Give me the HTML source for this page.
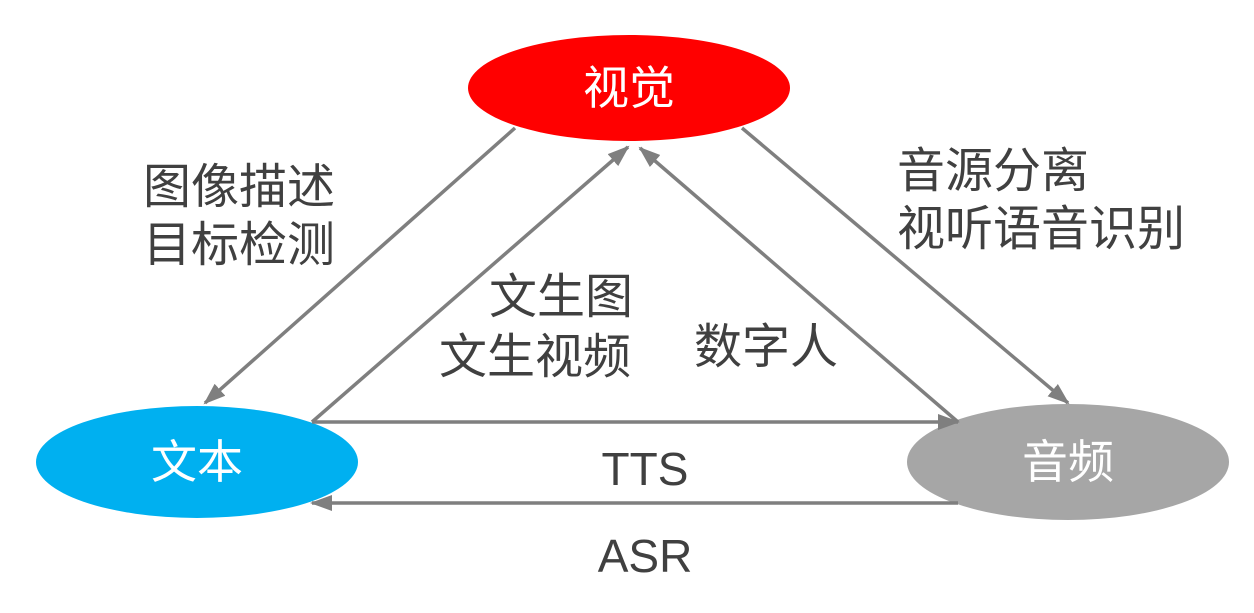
<!DOCTYPE html>
<html><head><meta charset="utf-8"><style>
html,body{margin:0;padding:0;background:#fff;width:1254px;height:613px;overflow:hidden}
text{font-family:"Liberation Sans","Noto Sans CJK SC",sans-serif}
</style></head><body>
<svg width="1254" height="613" viewBox="0 0 1254 613">
<defs>
<marker id="b" markerWidth="22" markerHeight="16" refX="20" refY="8" orient="auto" markerUnits="userSpaceOnUse"><path d="M0,0 L22,8 L0,16z" fill="#7f7f7f"/></marker></defs>
<ellipse cx="629" cy="88" rx="161" ry="53" fill="#ff0000"/>
<ellipse cx="197" cy="462" rx="161" ry="56" fill="#00b0f0"/>
<ellipse cx="1068" cy="462" rx="161" ry="58" fill="#a6a6a6"/>
<g stroke="#7f7f7f" stroke-width="3.5" fill="none" marker-end="url(#b)">
<line x1="515" y1="128" x2="205" y2="403"/>
<line x1="312" y1="422" x2="628" y2="147"/>
<line x1="958" y1="422" x2="640" y2="148"/>
<line x1="742" y1="128" x2="1068" y2="403"/>
<line x1="312" y1="422" x2="958" y2="422"/>
<line x1="958" y1="503" x2="312" y2="503"/>
</g>
<g fill="#fff" font-size="46" text-anchor="middle">
<text x="629" y="104">视觉</text>
<text x="197" y="478">文本</text>
<text x="1068" y="478">音频</text>
</g>
<g fill="#404040" font-size="48">
<text x="143" y="203">图像描述</text>
<text x="143" y="261">目标检测</text>
<text x="897" y="187">音源分离</text>
<text x="897" y="245">视听语音识别</text>
<text x="489" y="313">文生图</text>
<text x="439" y="373">文生视频</text>
<text x="694" y="363">数字人</text>
</g>
<g fill="#404040" font-size="46" text-anchor="middle">
<text x="645" y="485">TTS</text>
<text x="645" y="572">ASR</text>
</g>
</svg>
</body></html>
